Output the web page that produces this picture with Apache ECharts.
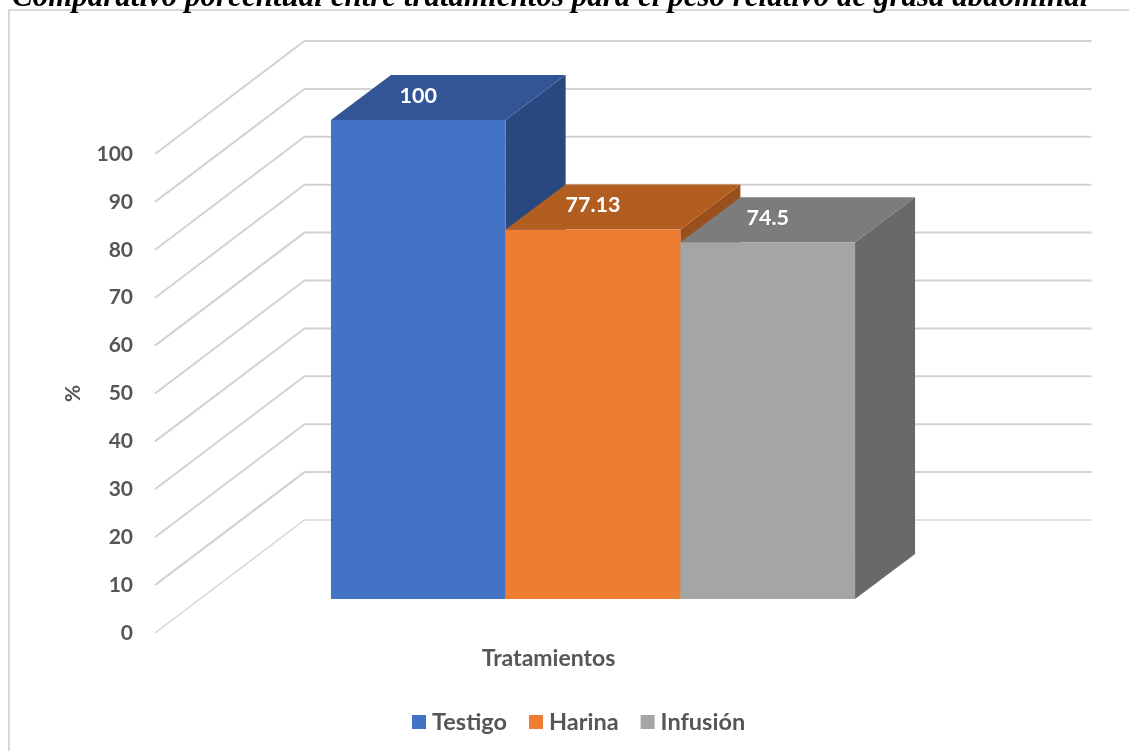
<!DOCTYPE html>
<html>
<head>
<meta charset="utf-8">
<style>html,body{margin:0;padding:0;background:#fff;overflow:hidden}#c{width:1129px;height:751px}</style>
<script src="https://cdn.jsdelivr.net/npm/echarts@6/dist/echarts.min.js"></script>
</head>
<body>
<div id="c"></div>
<script>
const titleText = 'Comparativo porcentual entre tratamientos para el peso relativo de grasa abdominal';
const categories = ['Tratamientos'];
const seriesNames = ['Testigo', 'Harina', 'Infusión'];
const testigo = [100];
const harina = [77.13];
const infusion = [74.5];
const tickValues = [0, 10, 20, 30, 40, 50, 60, 70, 80, 90, 100];
const labelTexts = ['100', '77.13', '74.5'];
const frontColors = ['#4472C4', '#ED7D31', '#A5A5A5'];
const topColors = ['#345595', '#B25E21', '#7C7C7C'];
const sideColors = ['#2A4880', '#99501C', '#696969'];

const WALL_DX = 149.5, WALL_DY = -113, WALL_W = 787;
const BAR_W = 174.7, BAR_OFF_X = 44.5, BAR_OFF_Y = -34, DEPTH_X = 60, DEPTH_Y = -45;

function wallItem(params, api) {
  const t = api.value(0);
  const p = api.coord([0, t]);
  const x0 = params.coordSys.x;
  const y = p[1];
  const main = t === 0 ? '#d6d6d6' : '#d2d2d2';
  return {
    type: 'polyline', silent: true,
    shape: { points: [[x0, y], [x0 + WALL_DX, y + WALL_DY], [x0 + WALL_DX + WALL_W, y + WALL_DY]] },
    style: { fill: 'none', stroke: main, lineWidth: t === 0 ? 1.5 : 2 }
  };
}

function barRender(i) {
  return function (params, api) {
    const top = api.coord([0, api.value(1)]);
    const base = api.coord([0, 0]);
    const x0 = top[0] + BAR_OFF_X + (i - 1.5) * BAR_W;
    const x1 = x0 + BAR_W;
    const yt = top[1] + BAR_OFF_Y;
    const yb = base[1] + BAR_OFF_Y;
    return {
      type: 'group', silent: true,
      children: [
        { type: 'polygon', shape: { points: [[x1, yt], [x1 + DEPTH_X, yt + DEPTH_Y], [x1 + DEPTH_X, yb + DEPTH_Y], [x1, yb]] }, style: { fill: sideColors[i] } },
        { type: 'polygon', shape: { points: [[x0, yt], [x0 + DEPTH_X, yt + DEPTH_Y], [x1 + DEPTH_X, yt + DEPTH_Y], [x1, yt]] }, style: { fill: topColors[i] } },
        { type: 'rect', shape: { x: x0, y: yt, width: BAR_W, height: yb - yt }, style: { fill: frontColors[i] } },
        { type: 'text', style: { x: (x0 + x1) / 2, y: yt - 24, text: labelTexts[i], fill: '#fff', font: 'bold 21.5px Lato', align: 'center', verticalAlign: 'middle' } }
      ]
    };
  };
}

const values = [testigo, harina, infusion];
const option = {
  animation: false,
  backgroundColor: '#fff',
  title: {
    text: titleText, left: 7, top: -23,
    textStyle: { fontFamily: 'Liberation Serif', fontStyle: 'italic', fontWeight: 'bold', fontSize: 31, color: '#000' }
  },
  graphic: [{
    type: 'rect', z: -10, silent: true,
    shape: { x: 9, y: 10, width: 1140, height: 760 },
    style: { fill: '#fff', stroke: '#d9d9d9', lineWidth: 2 }
  }],
  grid: { left: 155, top: 154, width: 787, height: 479 },
  legend: {
    left: 412, top: 710, padding: 0, itemWidth: 14, itemHeight: 14, itemGap: 22, icon: 'rect',
    data: seriesNames,
    textStyle: { fontFamily: 'Lato', fontWeight: 'bold', fontSize: 23.5, color: '#565656', padding: [0, 0, 0, 1] }
  },
  xAxis: {
    type: 'category', data: categories,
    axisLine: { show: false }, axisTick: { show: false }, splitLine: { show: false },
    axisLabel: { margin: 14, fontFamily: 'Lato', fontWeight: 'bold', fontSize: 23, color: '#565656' }
  },
  yAxis: {
    type: 'value', min: 0, max: 100, interval: 10,
    name: '%', nameLocation: 'middle', nameGap: 71, nameRotate: 90,
    nameTextStyle: { fontFamily: 'Lato', fontWeight: 'bold', fontSize: 21, color: '#565656' },
    axisLine: { show: false }, axisTick: { show: false }, splitLine: { show: false },
    axisLabel: { margin: 22, fontFamily: 'Lato', fontWeight: 'bold', fontSize: 21, color: '#565656' }
  },
  series: [
    { type: 'custom', name: 'walls', z: 1, silent: true, renderItem: wallItem, data: tickValues.map(v => [v]), encode: { y: 0 } }
  ].concat(seriesNames.map((n, i) => ({
    type: 'custom', name: n, z: 2 + i, silent: true,
    renderItem: barRender(i),
    itemStyle: { color: frontColors[i] },
    data: values[i].map((v, k) => [k, v]),
    encode: { x: 0, y: 1 }
  })))
};
const chart = echarts.init(document.getElementById('c'), null, { renderer: 'canvas' });
chart.setOption(option);
</script>
</body>
</html>
